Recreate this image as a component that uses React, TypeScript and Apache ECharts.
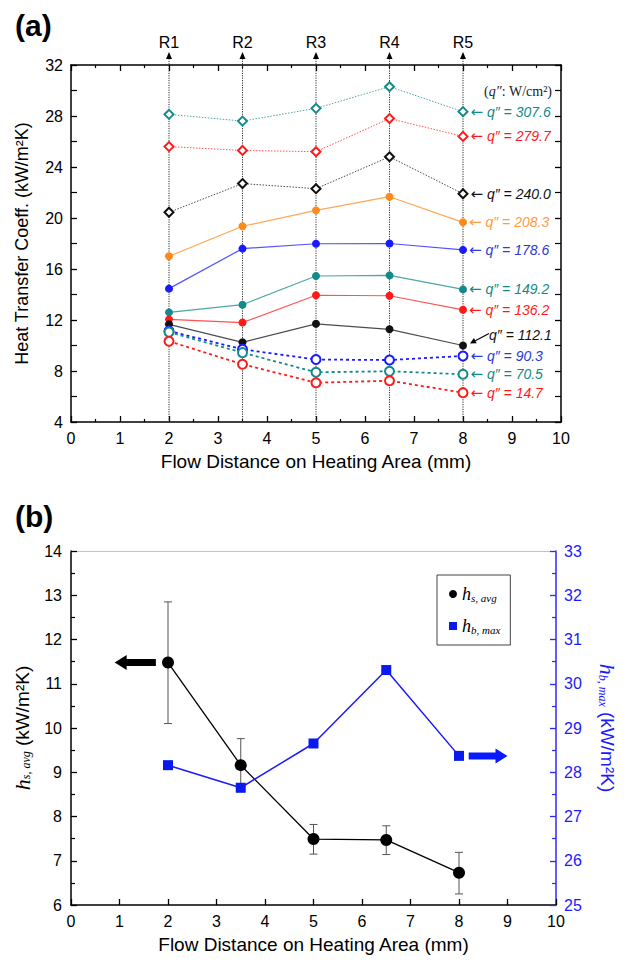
import React, { useEffect, useRef } from "react";
import * as echarts from "echarts";

// ---------- data ----------
const xPositions = [2, 3.5, 5, 6.5, 8];
const regionNames = ["R1", "R2", "R3", "R4", "R5"];
const xTicks = [0, 1, 2, 3, 4, 5, 6, 7, 8, 9, 10];

// panel (a): heat transfer coefficient (kW/m2K) per heat flux q'' (W/cm2)
const h307 = [28.13, 27.6, 28.6, 30.3, 28.34];
const h280 = [25.6, 25.3, 25.2, 27.8, 26.4];
const h240 = [20.45, 22.7, 22.3, 24.8, 21.9];
const h208 = [17.0, 19.35, 20.6, 21.67, 19.66];
const h179 = [14.46, 17.6, 17.98, 18.0, 17.5];
const h149 = [12.6, 13.2, 15.45, 15.5, 14.4];
const h136 = [12.05, 11.8, 13.94, 13.9, 12.8];
const h112 = [11.66, 10.25, 11.7, 11.27, 10.0];
const h90 = [11.14, 9.7, 8.9, 8.86, 9.18];
const h70 = [11.05, 9.44, 7.9, 7.98, 7.74];
const h15 = [10.33, 8.53, 7.08, 7.24, 6.3];

// panel (b)
const hsAvg = [11.48, 9.16, 7.49, 7.47, 6.73];
const hsErrLow = [10.1, 8.56, 7.15, 7.14, 6.25];
const hsErrHigh = [12.85, 9.76, 7.82, 7.79, 7.19];
const hbMax = [28.16, 27.65, 28.65, 30.31, 28.37];
const leftArrow = [0.9, 1.75, 11.48]; // x from, x to, y (left axis)
const rightArrow = [8.2, 9.0, 28.37]; // x from, x to, y (right axis)

// ---------- styles ----------
const FONT = "Liberation Sans, Arial, sans-serif";
const SERIF = "Liberation Serif, Times New Roman, serif";
const ARROWFONT = "DejaVu Sans, sans-serif";
const TEAL = "#138a8a";
const RED = "#ff1a1a";
const BLACK = "#111111";
const ORANGE = "#ff8a1a";
const BLUE = "#1a1aff";

type Cfg = { flux: string; values: number[]; color: string; labelColor: string; kind: "dia" | "solid" | "open"; special?: boolean };
const seriesCfg: Cfg[] = [
  { flux: "307.6", values: h307, color: TEAL, labelColor: TEAL, kind: "dia" },
  { flux: "279.7", values: h280, color: RED, labelColor: RED, kind: "dia" },
  { flux: "240.0", values: h240, color: BLACK, labelColor: BLACK, kind: "dia" },
  { flux: "208.3", values: h208, color: ORANGE, labelColor: "#ff9a45", kind: "solid" },
  { flux: "178.6", values: h179, color: BLUE, labelColor: "#2a3ad8", kind: "solid" },
  { flux: "149.2", values: h149, color: TEAL, labelColor: TEAL, kind: "solid" },
  { flux: "136.2", values: h136, color: RED, labelColor: RED, kind: "solid" },
  { flux: "112.1", values: h112, color: BLACK, labelColor: BLACK, kind: "solid", special: true },
  { flux: "90.3", values: h90, color: BLUE, labelColor: "#2a3ad8", kind: "open" },
  { flux: "70.5", values: h70, color: TEAL, labelColor: TEAL, kind: "open" },
  { flux: "14.7", values: h15, color: RED, labelColor: RED, kind: "open" },
];

function buildSeriesA(c: Cfg) {
  const n = c.values.length;
  const data = c.values.map((v, i) => {
    const item: any = { value: [xPositions[i], v] };
    if (i === n - 1) {
      item.label = c.special
        ? {
            show: true,
            position: "right",
            distance: 4,
            offset: [18, -11],
            formatter: `q″ = ${c.flux}`,
            color: c.labelColor,
            fontSize: 14,
            fontStyle: "italic",
            fontFamily: FONT,
          }
        : {
            show: true,
            position: "right",
            distance: 2,
            formatter: `{a|←}{t| q″ = ${c.flux}}`,
            rich: {
              a: { fontSize: 15, color: c.labelColor, fontFamily: ARROWFONT, fontStyle: "normal" },
              t: { fontSize: 14, color: c.labelColor, fontStyle: "italic", fontFamily: FONT },
            },
          };
    }
    return item;
  });
  const base: any = {
    type: "line",
    name: "q" + c.flux,
    xAxisIndex: 0,
    yAxisIndex: 0,
    data,
    z: 5,
    color: c.color,
  };
  if (c.kind === "dia") {
    base.symbol = "emptyDiamond";
    base.symbolSize = 9;
    base.itemStyle = { color: c.color, borderColor: c.color, borderWidth: 1.3 };
    base.lineStyle = { color: c.color, width: 1, type: [1.5, 1.5], opacity: 0.75 };
  } else if (c.kind === "solid") {
    base.symbol = "circle";
    base.symbolSize = 8;
    base.itemStyle = { color: c.color };
    base.lineStyle = { color: c.color, width: 1.2, opacity: 0.75 };
  } else {
    base.symbol = "emptyCircle";
    base.symbolSize = 9;
    base.itemStyle = { color: c.color, borderColor: c.color, borderWidth: 1.3 };
    base.lineStyle = { color: c.color, width: 1.8, type: [3, 3] };
  }
  return base;
}

function arrowRender(dirLeft: boolean) {
  return (params: any, api: any) => {
    const p0 = api.coord([api.value(0), api.value(2)]);
    const p1 = api.coord([api.value(1), api.value(2)]);
    const y = p0[1];
    const st = 3.5, hh = 7.5, hl = 12;
    let pts: number[][];
    const a = p0[0], b = p1[0];
    if (dirLeft) {
      pts = [[a, y], [a + hl, y - hh], [a + hl, y - st], [b, y - st], [b, y + st], [a + hl, y + st], [a + hl, y + hh]];
    } else {
      pts = [[b, y], [b - hl, y - hh], [b - hl, y - st], [a, y - st], [a, y + st], [b - hl, y + st], [b - hl, y + hh]];
    }
    return { type: "polygon", shape: { points: pts }, style: { fill: api.visual("color") } };
  };
}

const axisLineBlack = { show: true, onZero: false, lineStyle: { color: "#000", width: 1.5 } };

export default function App() {
  const ref = useRef<HTMLDivElement>(null);
  useEffect(() => {
    document.body.style.margin = "0";
    const chart = echarts.init(ref.current!, undefined, { renderer: "svg" });
    const special = seriesCfg.find((c) => c.special)!;
    const option: any = {
      animation: false,
      backgroundColor: "#fff",
      textStyle: { fontFamily: FONT },
      title: [
        { text: "(a)", left: 10, top: 5, textStyle: { fontSize: 30, fontWeight: "bold", fontFamily: FONT, color: "#000" } },
        { text: "(b)", left: 10, top: 496, textStyle: { fontSize: 30, fontWeight: "bold", fontFamily: FONT, color: "#000" } },
      ],
      grid: [
        { left: 71, width: 490, top: 65, height: 357 },
        { left: 71, width: 490, top: 551, height: 354 },
      ],
      xAxis: [
        {
          gridIndex: 0, type: "value", min: xTicks[0], max: xTicks[xTicks.length - 1], interval: 1, position: "bottom",
          axisLine: axisLineBlack, axisTick: { inside: true, length: 6, lineStyle: { color: "#000", width: 1.3 } },
          minorTick: { show: true, splitNumber: 2, length: 3, lineStyle: { color: "#000", width: 1.2 } },
          splitLine: { show: false }, axisLabel: { fontSize: 16, color: "#000", margin: 8, fontFamily: FONT },
          name: "Flow Distance on Heating Area (mm)", nameLocation: "middle", nameGap: 30,
          nameTextStyle: { fontSize: 19, color: "#000", fontFamily: FONT },
        },
        {
          gridIndex: 0, type: "value", min: 0, max: 10, interval: 1, position: "top",
          axisLine: axisLineBlack, axisTick: { inside: true, length: 6, lineStyle: { color: "#000", width: 1.3 } },
          minorTick: { show: true, splitNumber: 2, length: 3, lineStyle: { color: "#000", width: 1.2 } },
          splitLine: { show: false }, axisLabel: { show: false },
        },
        {
          gridIndex: 1, type: "value", min: 0, max: 10, interval: 1, position: "bottom",
          axisLine: axisLineBlack, axisTick: { inside: true, length: 6, lineStyle: { color: "#000", width: 1.3 } },
          splitLine: { show: false }, axisLabel: { fontSize: 16, color: "#000", margin: 8, fontFamily: FONT },
          name: "Flow Distance on Heating Area (mm)", nameLocation: "middle", nameGap: 30,
          nameTextStyle: { fontSize: 19, color: "#000", fontFamily: FONT },
        },
        {
          gridIndex: 1, type: "value", min: 0, max: 10, interval: 1, position: "top",
          axisLine: { show: true, onZero: false, lineStyle: { color: "#c4c4c4", width: 1 } }, axisTick: { show: false },
          splitLine: { show: false }, axisLabel: { show: false },
        },
      ],
      yAxis: [
        {
          gridIndex: 0, type: "value", min: 4, max: 32, interval: 4, position: "left",
          axisLine: axisLineBlack, axisTick: { inside: true, length: 6, lineStyle: { color: "#000", width: 1.3 } },
          minorTick: { show: true, splitNumber: 2, length: 6, lineStyle: { color: "#000", width: 1.2 } },
          splitLine: { show: false }, axisLabel: { fontSize: 16, color: "#000", margin: 8, fontFamily: FONT },
          name: "Heat Transfer Coeff. (kW/m²K)", nameLocation: "middle", nameGap: 40, nameRotate: 90,
          nameTextStyle: { fontSize: 18, color: "#000", fontFamily: FONT },
        },
        {
          gridIndex: 0, type: "value", min: 4, max: 32, interval: 4, position: "right",
          axisLine: axisLineBlack, axisTick: { inside: true, length: 6, lineStyle: { color: "#000", width: 1.3 } },
          minorTick: { show: true, splitNumber: 2, length: 6, lineStyle: { color: "#000", width: 1.2 } },
          splitLine: { show: false }, axisLabel: { show: false },
        },
        {
          gridIndex: 1, type: "value", min: 6, max: 14, interval: 1, position: "left",
          axisLine: axisLineBlack, axisTick: { inside: true, length: 6, lineStyle: { color: "#000", width: 1.3 } },
          minorTick: { show: true, splitNumber: 2, length: 4, lineStyle: { color: "#000", width: 1.2 } },
          splitLine: { show: false }, axisLabel: { fontSize: 16, color: "#000", margin: 9, fontFamily: FONT },
          name: "{h|h}{s|s, avg}{n| (kW/m²K)}", nameLocation: "middle", nameGap: 38, nameRotate: 90,
          nameTextStyle: {
            fontSize: 19, color: "#000", fontFamily: FONT,
            rich: {
              h: { fontSize: 22, fontStyle: "italic", fontFamily: SERIF, color: "#000" },
              s: { fontSize: 12, fontStyle: "italic", fontFamily: SERIF, color: "#000", padding: [8, 0, 0, 0] },
              n: { fontSize: 19, fontFamily: FONT, color: "#000" },
            },
          },
        },
        {
          gridIndex: 1, type: "value", min: 25, max: 33, interval: 1, position: "right",
          axisLine: { show: true, onZero: false, lineStyle: { color: "#2a2aff", width: 1.5 } },
          axisTick: { inside: true, length: 6, lineStyle: { color: "#2a2aff", width: 1.3 } },
          minorTick: { show: true, splitNumber: 2, length: 4, lineStyle: { color: "#2a2aff", width: 1.2 } },
          splitLine: { show: false }, axisLabel: { fontSize: 16, color: "#1a1aff", margin: 8, fontFamily: FONT },
          name: "{h|h}{s|b, max}{n| (kW/m²K)}", nameLocation: "middle", nameGap: 40, nameRotate: -90,
          nameTextStyle: {
            fontSize: 19, color: "#1a1aff", fontFamily: FONT,
            rich: {
              h: { fontSize: 22, fontStyle: "italic", fontFamily: SERIF, color: "#1a1aff" },
              s: { fontSize: 12, fontStyle: "italic", fontFamily: SERIF, color: "#1a1aff", padding: [8, 0, 0, 0] },
              n: { fontSize: 19, fontFamily: FONT, color: "#1a1aff" },
            },
          },
        },
      ],
      legend: {
        data: [
          { name: "hs", icon: "circle" },
          { name: "hb", icon: "rect" },
        ],
        orient: "vertical",
        left: 437,
        top: 575,
        padding: [8, 10, 8, 12],
        itemGap: 10,
        itemWidth: 8,
        itemHeight: 8,
        borderColor: "#444",
        borderWidth: 1,
        formatter: (name: string) => (name === "hs" ? "{h|h}{s|s, avg}" : "{h|h}{s|b, max}"),
        textStyle: {
          lineHeight: 22,
          rich: {
            h: { fontSize: 18, fontStyle: "italic", fontFamily: SERIF, color: "#000" },
            s: { fontSize: 11, fontStyle: "italic", fontFamily: SERIF, color: "#000", padding: [7, 0, 0, 0] },
          },
        },
      },
      graphic: [
        {
          type: "text",
          x: 552,
          y: 91,
          style: {
            text: "({i|q″}: W/cm²)",
            align: "right",
            verticalAlign: "middle",
            font: `14px ${SERIF}`,
            fill: "#222",
            rich: { i: { fontStyle: "italic", fontFamily: SERIF, fontSize: 14, fill: "#222" } },
          },
        },
      ],
      series: [
        {
          type: "custom",
          name: "regions",
          xAxisIndex: 0,
          yAxisIndex: 0,
          clip: false,
          z: 1,
          data: xPositions.map((x) => [x, 4]),
          renderItem: (params: any, api: any) => {
            const x = api.value(0);
            const b = api.coord([x, 4]);
            const t = api.coord([x, 32]);
            const tipY = t[1] - 13;
            return {
              type: "group",
              children: [
                { type: "line", shape: { x1: b[0], y1: b[1], x2: b[0], y2: tipY + 5 }, style: { stroke: "#333", lineWidth: 1, lineDash: [1.2, 1.2] } },
                { type: "polygon", shape: { points: [[b[0], tipY], [b[0] - 3, tipY + 7], [b[0] + 3, tipY + 7]] }, style: { fill: "#000" } },
                { type: "text", style: { text: regionNames[params.dataIndex], x: b[0], y: tipY - 2, align: "center", verticalAlign: "bottom", font: `16px ${FONT}`, fill: "#000" } },
              ],
            };
          },
        },
        ...seriesCfg.map(buildSeriesA),
        {
          // pointer arrow for the q''=112.1 label
          type: "custom",
          name: "ptr112",
          xAxisIndex: 0,
          yAxisIndex: 0,
          clip: false,
          z: 6,
          data: [[xPositions[xPositions.length - 1], special.values[special.values.length - 1]]],
          renderItem: (params: any, api: any) => {
            const p = api.coord([api.value(0), api.value(1)]);
            const tx = p[0] + 7, ty = p[1] - 2;
            const sx = p[0] + 26, sy = p[1] - 12;
            const ang = Math.atan2(ty - sy, tx - sx);
            const hl = 6, hw = 3;
            const bx = tx - hl * Math.cos(ang), by = ty - hl * Math.sin(ang);
            const nx = -Math.sin(ang) * hw, ny = Math.cos(ang) * hw;
            return {
              type: "group",
              children: [
                { type: "line", shape: { x1: sx, y1: sy, x2: bx, y2: by }, style: { stroke: "#000", lineWidth: 1.2 } },
                { type: "polygon", shape: { points: [[tx, ty], [bx + nx, by + ny], [bx - nx, by - ny]] }, style: { fill: "#000" } },
              ],
            };
          },
        },
        // panel b
        {
          type: "custom",
          name: "err",
          xAxisIndex: 2,
          yAxisIndex: 2,
          z: 3,
          clip: false,
          data: hsErrLow.map((l, i) => [xPositions[i], l, hsErrHigh[i]]),
          encode: { x: 0, y: [1, 2] },
          renderItem: (params: any, api: any) => {
            const lo = api.coord([api.value(0), api.value(1)]);
            const hi = api.coord([api.value(0), api.value(2)]);
            const w = 4;
            const st = { stroke: "#555", lineWidth: 1 };
            return {
              type: "group",
              children: [
                { type: "line", shape: { x1: lo[0], y1: lo[1], x2: hi[0], y2: hi[1] }, style: st },
                { type: "line", shape: { x1: lo[0] - w, y1: lo[1], x2: lo[0] + w, y2: lo[1] }, style: st },
                { type: "line", shape: { x1: hi[0] - w, y1: hi[1], x2: hi[0] + w, y2: hi[1] }, style: st },
              ],
            };
          },
        },
        {
          type: "line",
          name: "hs",
          xAxisIndex: 2,
          yAxisIndex: 2,
          z: 4,
          data: hsAvg.map((v, i) => [xPositions[i], v]),
          symbol: "circle",
          symbolSize: 12,
          color: "#000",
          itemStyle: { color: "#000" },
          lineStyle: { color: "#000", width: 1.3 },
        },
        {
          type: "line",
          name: "hb",
          xAxisIndex: 2,
          yAxisIndex: 3,
          z: 5,
          data: hbMax.map((v, i) => [xPositions[i], v]),
          symbol: "rect",
          symbolSize: 10,
          color: "#0a1aee",
          itemStyle: { color: "#0a1aee" },
          lineStyle: { color: "#1a1aff", width: 1.5 },
        },
        {
          type: "custom",
          name: "arrowL",
          xAxisIndex: 2,
          yAxisIndex: 2,
          clip: false,
          z: 6,
          itemStyle: { color: "#000" },
          data: [leftArrow],
          renderItem: arrowRender(true),
        },
        {
          type: "custom",
          name: "arrowR",
          xAxisIndex: 2,
          yAxisIndex: 3,
          clip: false,
          z: 6,
          itemStyle: { color: "#0a1aff" },
          data: [rightArrow],
          renderItem: arrowRender(false),
        },
      ],
    };
    chart.setOption(option);
    return () => chart.dispose();
  }, []);
  return <div ref={ref} style={{ width: 626, height: 962 }} />;
}
